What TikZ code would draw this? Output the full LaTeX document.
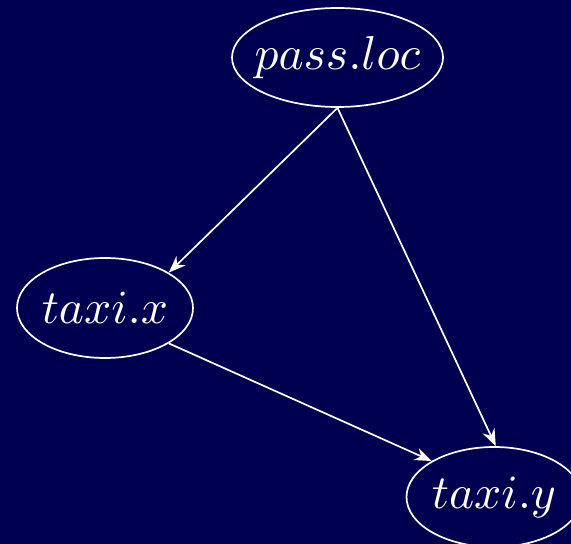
\documentclass[tikz,border=0pt]{standalone}
\usepackage{graphicx}
\usetikzlibrary{shapes.geometric,arrows.meta}
\definecolor{navybg}{RGB}{0,0,80}
\newcommand{\varlabel}[1]{\scalebox{2.38}{$#1$}}
\begin{document}
\begin{tikzpicture}[x=0.5pt,y=-0.5pt,
  var/.style={ellipse, draw=white, line width=0.85pt, inner sep=0pt,
    label={[text=white, inner sep=0pt]center:#1}},
  edge/.style={draw=white, line width=0.85pt,
    -{Stealth[length=8.5pt,width=6.5pt,inset=2.8pt]}}]
  % background and picture frame
  \fill[navybg] (0,0) rectangle (571,544);
  \useasboundingbox (0,0) rectangle (571,544);

  % variables (ellipse sized explicitly, label set in its centre)
  \node[var={\varlabel{pass.loc}}, minimum width=105.5pt, minimum height=49.5pt] (pass) at (337.5,57.5) {};
  \node[var={\varlabel{taxi.x}}, minimum width=88pt, minimum height=50pt] (tx) at (105,308) {};
  \node[var={\varlabel{taxi.y}}, minimum width=87.5pt, minimum height=50pt] (ty) at (494,497) {};

  % dependencies
  \draw[edge] (pass.south) -- (tx.29);
  \draw[edge] (pass.south) -- (ty.88);
  \draw[edge] (tx.-29) -- (ty.150);
\end{tikzpicture}
\end{document}
